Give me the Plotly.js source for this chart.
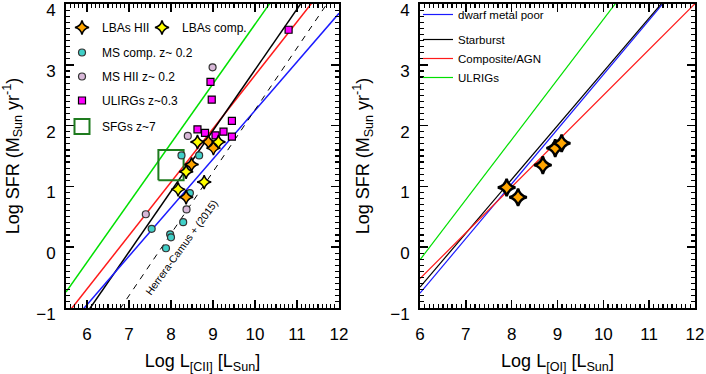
<!DOCTYPE html>
<html><head><meta charset="utf-8">
<script src="https://cdn.plot.ly/plotly-3.0.1.min.js"></script>
<style>html,body{margin:0;padding:0;background:#fff}#chart{width:706px;height:374px}</style>
</head><body><div id="chart"></div>
<script>
// ---------- data ----------
// Left panel: log L[CII] vs log SFR
const ciiLineX      = [5.5, 12];
const ciiDwarfY     = [-1.35, 3.85];   // dwarf metal poor
const ciiStarbY     = [-1.58, 4.92];   // starburst
const ciiCompY      = [-1.13, 4.59];   // composite/AGN
const ciiUlirgY     = [-0.74, 5.63];   // ULIRGs
const hcLineY       = [-2.33, 4.30];   // Herrera-Camus + (2015)

const lbaHII_x  = [8.36, 8.49, 8.89, 9.01];
const lbaHII_y  = [0.82, 1.36, 1.73, 1.63];
const lbaComp_x = [8.17, 8.36, 8.79, 8.63, 9.13];
const lbaComp_y = [0.95, 1.24, 1.07, 1.73, 1.73];
const msComp_x  = [7.54, 7.88, 7.98, 8.00, 8.29, 8.45, 8.25, 8.67];
const msComp_y  = [0.30, -0.02, 0.21, 0.16, 0.41, 0.89, 1.51, 1.51];
const msHII_x   = [7.40, 8.37, 8.40, 8.99];
const msHII_y   = [0.54, 0.62, 1.83, 2.96];
const ulirg_x   = [8.63, 8.81, 9.06, 9.25, 9.45, 9.45, 8.97, 8.94, 10.80];
const ulirg_y   = [1.94, 1.88, 1.84, 1.90, 2.08, 1.82, 2.43, 2.72, 3.58];
const sfgBoxX   = [7.7, 8.3];   // SFGs z~7 range in log L[CII]
const sfgBoxY   = [1.1, 1.6];   // SFGs z~7 range in log SFR

// Right panel: log L[OI] vs log SFR
const oiLineX   = [6, 12];
const oiDwarfY  = [-0.76, 4.64];
const oiStarbY  = [-0.66, 4.66];
const oiCompY   = [-0.52, 4.01];
const oiUlirgY  = [-0.21, 5.73];
const lbaOI_x   = [7.89, 8.14, 8.68, 8.95, 9.09];
const lbaOI_y   = [0.98, 0.82, 1.35, 1.63, 1.71];

const tickVals  = [-1, 0, 1, 2, 3, 4];

// ---------- styling ----------
const F = 'Liberation Sans, Arial, Helvetica, sans-serif';
const GREEN = '#00e000', RED = '#ff1a1a', BLUE = '#1a1aff', BLACK = '#000000';
const ORANGE = '#ffa500', YELLOW = '#ffff00', TEAL = '#40d0c8', PINK = '#d8b8d8', MAGENTA = '#ff00ff', DKGREEN = '#1e7b1e';
const TOP = 4, BOT = 308, H = BOT - TOP;

function line(x, y, color, xa, ya, extra) {
  return Object.assign({x: x, y: y, xaxis: xa, yaxis: ya, mode: 'lines', type: 'scatter',
    line: {color: color, width: 1.5}, showlegend: false, hoverinfo: 'skip'}, extra || {});
}
// SFG rectangle outline built from the two ranges
const sfgX = [sfgBoxX[0], sfgBoxX[1], sfgBoxX[1], sfgBoxX[0], sfgBoxX[0]];
const sfgY = [sfgBoxY[0], sfgBoxY[0], sfgBoxY[1], sfgBoxY[1], sfgBoxY[0]];

const traces = [
  line(ciiLineX, ciiUlirgY, GREEN, 'x', 'y'),
  line(ciiLineX, ciiCompY, RED, 'x', 'y'),
  line(ciiLineX, ciiStarbY, BLACK, 'x', 'y'),
  line(ciiLineX, ciiDwarfY, BLUE, 'x', 'y'),
  line(ciiLineX, hcLineY, BLACK, 'x', 'y', {line: {color: BLACK, width: 1, dash: '6px,6px'}}),
  line(sfgX, sfgY, DKGREEN, 'x', 'y', {line: {color: DKGREEN, width: 2}}),
  {x: ulirg_x, y: ulirg_y, xaxis: 'x', yaxis: 'y', mode: 'markers', type: 'scatter', name: 'ULIRGs z~0.3',
   legend: 'legend5',
   marker: {symbol: 'square', size: 7, color: MAGENTA, line: {color: BLACK, width: 1.2}}},
  {x: msHII_x, y: msHII_y, xaxis: 'x', yaxis: 'y', mode: 'markers', type: 'scatter', name: 'MS HII z~ 0.2',
   legend: 'legend4',
   marker: {symbol: 'circle', size: 7, color: PINK, line: {color: '#333', width: 1.2}}},
  {x: msComp_x, y: msComp_y, xaxis: 'x', yaxis: 'y', mode: 'markers', type: 'scatter', name: 'MS comp. z~ 0.2',
   legend: 'legend3',
   marker: {symbol: 'circle', size: 7, color: TEAL, line: {color: '#333', width: 1.2}}},
  {x: [null], y: [null], xaxis: 'x', yaxis: 'y', mode: 'markers', type: 'scatter', name: 'SFGs z~7',
   legend: 'legend6',
   marker: {symbol: 'square-open', size: 15, color: DKGREEN, line: {color: DKGREEN, width: 2}}},
  {x: lbaHII_x, y: lbaHII_y, xaxis: 'x', yaxis: 'y', mode: 'markers', type: 'scatter', name: 'LBAs HII',
   legend: 'legend',
   marker: {symbol: 'star-diamond', size: 10, color: ORANGE, line: {color: BLACK, width: 1.5}}},
  {x: lbaComp_x, y: lbaComp_y, xaxis: 'x', yaxis: 'y', mode: 'markers', type: 'scatter', name: 'LBAs comp.',
   legend: 'legend2',
   marker: {symbol: 'star-diamond', size: 10, color: YELLOW, line: {color: BLACK, width: 1.5}}},

  // right panel
  line(oiLineX, oiDwarfY, BLUE, 'x2', 'y2', {showlegend: true, name: 'dwarf metal poor', legend: 'legend7', legendgroup: 'p', line: {color: BLUE, width: 1.2}}),
  line(oiLineX, oiStarbY, BLACK, 'x2', 'y2', {showlegend: true, name: 'Starburst', legend: 'legend7', legendgroup: 'q', line: {color: BLACK, width: 1.2}}),
  line(oiLineX, oiCompY, RED, 'x2', 'y2', {showlegend: true, name: 'Composite/AGN', legend: 'legend7', legendgroup: 'q', line: {color: RED, width: 1.2}}),
  line(oiLineX, oiUlirgY, GREEN, 'x2', 'y2', {showlegend: true, name: 'ULRIGs', legend: 'legend7', legendgroup: 'q', line: {color: GREEN, width: 1.2}}),
  {x: lbaOI_x, y: lbaOI_y, xaxis: 'x2', yaxis: 'y2', mode: 'markers', type: 'scatter', showlegend: false,
   marker: {symbol: 'star-diamond', size: 12.5, color: ORANGE, line: {color: BLACK, width: 2.5}}}
];

function xAx(domain, range, title, anchor) {
  return {domain: domain, range: range, anchor: anchor, dtick: 1, tick0: 6,
    showline: true, linewidth: 2, linecolor: BLACK, mirror: 'allticks',
    ticks: 'inside', ticklen: 8, tickwidth: 1.5, tickcolor: BLACK, ticklabelstandoff: 10,
    ticklabeloverflow: 'allow',
    minor: {ticks: 'inside', ticklen: 4, tickwidth: 1.2, tickcolor: BLACK, dtick: 0.1, showgrid: false},
    showgrid: false, zeroline: false, tickfont: {size: 17, family: F, color: BLACK},
    title: {text: title, font: {size: 18, family: F, color: BLACK}, standoff: 16}};
}
function yAx(anchor, standoff) {
  return {domain: [0, 1], range: [-1.004, 4.004], anchor: anchor, tickmode: 'array', tickvals: tickVals,
    showline: true, linewidth: 2, linecolor: BLACK, mirror: 'allticks',
    ticks: 'inside', ticklen: 8, tickwidth: 1.5, tickcolor: BLACK, ticklabelstandoff: 5, ticklabelshift: 6,
    ticklabeloverflow: 'allow',
    minor: {ticks: 'inside', ticklen: 4, tickwidth: 1.2, tickcolor: BLACK, dtick: 0.1, showgrid: false},
    showgrid: false, zeroline: false, tickfont: {size: 17, family: F, color: BLACK},
    title: {text: 'Log SFR (M<sub>Sun</sub> yr<sup>-1</sup>)', font: {size: 18, family: F, color: BLACK}, standoff: standoff}};
}

function leg(pxLeft, pxTop, size) {
  return {x: pxLeft/706, y: (BOT - pxTop)/H, xanchor: 'left', yanchor: 'top', orientation: 'v',
    bgcolor: 'rgba(0,0,0,0)', font: {size: size || 12, family: F, color: BLACK}, itemsizing: 'trace'};
}
const L7 = leg(418, 0, 11.5); L7.tracegroupgap = 6; L7.traceorder = 'grouped';

const layout = {
  width: 706, height: 374,
  margin: {l: 0, r: 0, t: TOP, b: 374 - BOT},
  paper_bgcolor: '#fff', plot_bgcolor: '#fff',
  font: {family: F, color: BLACK},
  xaxis: xAx([66/706, 339/706], [5.5, 12], 'Log L<sub>[CII]</sub> [L<sub>Sun</sub>]', 'y'),
  yaxis: yAx('x', 14),
  xaxis2: xAx([420/706, 695/706], [6, 12], 'Log L<sub>[OI]</sub> [L<sub>Sun</sub>]', 'y2'),
  yaxis2: yAx('x2', 16),
  legend: leg(62, 13),
  legend2: leg(142, 13),
  legend3: leg(62, 38),
  legend4: leg(62, 62),
  legend5: leg(62, 86),
  legend6: leg(62, 112),
  legend7: L7,
  annotations: [{x: 8.25, y: 0.0, xref: 'x', yref: 'y', text: 'Herrera-Camus + (2015)', showarrow: false,
    textangle: -54, font: {size: 10.5, family: F, color: BLACK}}],
  showlegend: true
};

Plotly.newPlot('chart', traces, layout, {staticPlot: true, displayModeBar: false});
</script>
</body></html>
